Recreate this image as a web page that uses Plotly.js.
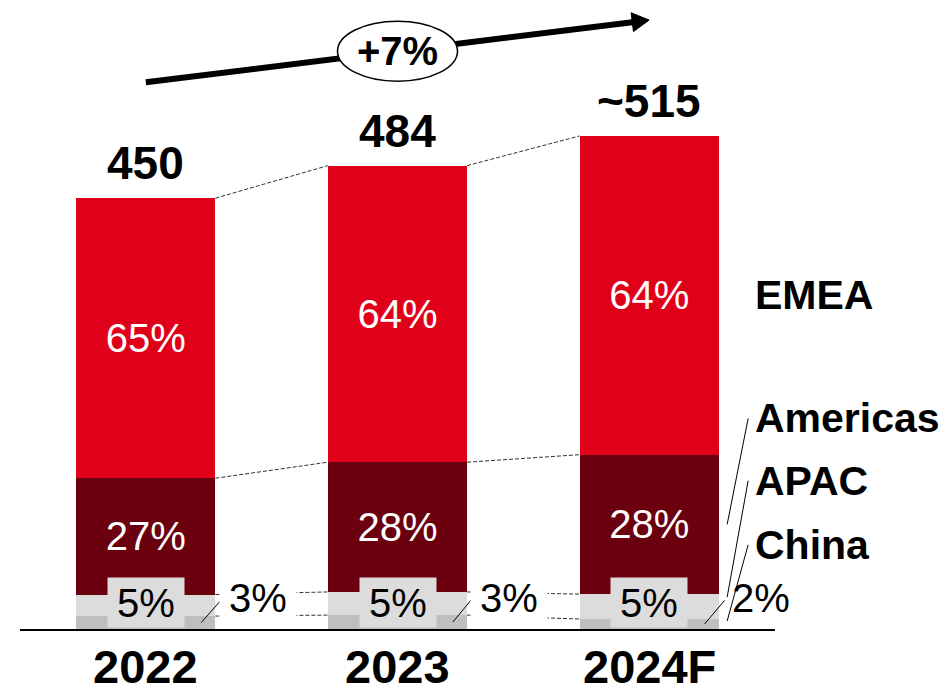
<!DOCTYPE html>
<html>
<head>
<meta charset="utf-8">
<script src="https://cdn.plot.ly/plotly-3.0.1.min.js"></script>
<style>
  html, body { margin: 0; padding: 0; background: #fff; }
  #chart { width: 947px; height: 694px; }
</style>
</head>
<body>
<div id="chart"></div>
<script>
// Revenue by region, 2022 - 2024F
const years = ['2022', '2023', '2024F'];
const totals = [450, 484, 515];
const totalLabels = ['450', '484', '~515'];
const emeaPct = [65, 64, 64];
const americasPct = [27, 28, 28];
const apacPct = [5, 5, 5];
const chinaPct = [3, 3, 2];
const regionNames = ['EMEA', 'Americas', 'APAC', 'China'];
const growthLabel = '+7%';

// ---- styling / geometry constants ----
const FONT = 'Liberation Sans, Arial, sans-serif';
const COLORS = { EMEA: '#e1001a', Americas: '#6b000e', APAC: '#dcdcdc', China: '#bfbfbf' };
const BAR_W = 0.553;
const HW = BAR_W / 2;
const X_RANGE = [-0.5, 2.5];
const Y_MAX = 657;
const MARGIN = { l: 20, r: 172, t: 0, b: 65 };
const W = 947, H = 694;
const PLOT_H = H - MARGIN.t - MARGIN.b;
const PX_X = (W - MARGIN.l - MARGIN.r) / (X_RANGE[1] - X_RANGE[0]); // px per x unit
const PX_Y = PLOT_H / Y_MAX;                                          // px per y unit
const px2x = p => p / PX_X;
const px2y = p => p / PX_Y;

// Segment sizes: shares of each year's total (normalised so the stack equals the total)
const n = years.length;
const pctSum = years.map((_, i) => emeaPct[i] + americasPct[i] + apacPct[i] + chinaPct[i]);
const seg = pct => pct.map((p, i) => totals[i] * p / pctSum[i]);
const china = seg(chinaPct);
const apac = seg(apacPct);
const americas = seg(americasPct);
const emea = seg(emeaPct);
const xs = years.map((_, i) => i);

const baseBar = {
  type: 'bar', x: xs, width: BAR_W, hoverinfo: 'skip',
  textposition: 'inside', insidetextanchor: 'middle', textangle: 0,
  textfont: { family: FONT, size: 40, color: '#ffffff' },
  marker: { line: { width: 0 } }
};

const traces = [
  Object.assign({}, baseBar, { name: 'China', y: china, marker: { color: COLORS.China, line: { width: 0 } }, text: xs.map(() => ''), textposition: 'none' }),
  Object.assign({}, baseBar, { name: 'APAC', y: apac, marker: { color: COLORS.APAC, line: { width: 0 } }, text: xs.map(() => ''), textposition: 'none' }),
  Object.assign({}, baseBar, { name: 'Americas', y: americas, marker: { color: COLORS.Americas, line: { width: 0 } }, text: americasPct.map(p => p + '%') }),
  Object.assign({}, baseBar, { name: 'EMEA', y: emea, marker: { color: COLORS.EMEA, line: { width: 0 } }, text: emeaPct.map(p => p + '%') })
];

const shapes = [];
const annotations = [];

// cumulative boundaries per bar
const lvlChina = china;
const lvlApac = xs.map(i => china[i] + apac[i]);
const lvlAmer = xs.map(i => lvlApac[i] + americas[i]);
const lvlTop = xs.map(i => lvlAmer[i] + emea[i]);

// dashed connectors between neighbouring bars
const dashLine = { color: '#333333', width: 1, dash: '4px,2px' };
for (let i = 0; i < n - 1; i++) {
  [lvlTop, lvlAmer, lvlApac, lvlChina].forEach(lvl => {
    shapes.push({ type: 'line', xref: 'x', yref: 'y', x0: i + HW, y0: lvl[i], x1: i + 1 - HW, y1: lvl[i + 1], line: dashLine, layer: 'above' });
  });
}

// small shares: APAC inside a grey tab, China beside the bar with a short leader
const SIDE_DX = 0.445;
for (let i = 0; i < n; i++) {
  annotations.push({
    x: i, y: 0, xref: 'x', yref: 'y', yanchor: 'bottom', yshift: 1,
    text: apacPct[i] + '%', showarrow: false, width: 74, height: 47,
    bgcolor: COLORS.APAC, font: { family: FONT, size: 40, color: '#000' }
  });
  annotations.push({
    x: i + SIDE_DX, y: 0, xref: 'x', yref: 'y', yanchor: 'bottom', yshift: 9,
    text: chinaPct[i] + '%', showarrow: false, width: 74, height: 40,
    bgcolor: i < n - 1 ? '#ffffff' : 'rgba(0,0,0,0)',
    font: { family: FONT, size: 40, color: '#000' }
  });
  shapes.push({
    type: 'line', xref: 'x', yref: 'y',
    x0: i + 0.22, y0: china[i] * 0.5, x1: i + 0.30, y1: china[i] + apac[i] * 0.75,
    line: { color: '#000', width: 1 }, layer: 'above'
  });
  // year total
  annotations.push({
    x: i, y: lvlTop[i], xref: 'x', yref: 'y', yanchor: 'bottom', yshift: 7,
    text: totalLabels[i], showarrow: false,
    font: { family: FONT, size: 46, color: '#000', weight: 'bold' }
  });
  // year label under the axis, kept inside the figure
  annotations.push({
    x: i, y: -MARGIN.b / PLOT_H, xref: 'x', yref: 'paper', yanchor: 'bottom', borderpad: 0,
    text: years[i], showarrow: false,
    font: { family: FONT, size: 47, color: '#000', weight: 'bold' }
  });
}

// region labels on the right, with leaders into the last bar
const last = n - 1;
const LABEL_X = last + px2x(104);
const LEAD_TOP_X = last + px2x(99);
const LEAD_BOT_X = last + px2x(78);
const regionLabelY = { EMEA: lvlAmer[last] + emea[last] / 2, Americas: 220, APAC: 155, China: 88 };
const leaderEnd = {
  Americas: lvlApac[last] + americas[last] / 2,
  APAC: china[last] + apac[last] * 0.88,
  China: china[last] * 0.8
};
regionNames.forEach(r => {
  annotations.push({
    x: LABEL_X, y: regionLabelY[r], xref: 'x', yref: 'y', xanchor: 'left', yanchor: 'middle',
    text: r, showarrow: false, font: { family: FONT, size: 41, color: '#000', weight: 'bold' }
  });
  if (leaderEnd[r] !== undefined) {
    shapes.push({
      type: 'line', xref: 'x', yref: 'y',
      x0: LEAD_TOP_X, y0: regionLabelY[r], x1: LEAD_BOT_X, y1: leaderEnd[r],
      line: { color: '#000', width: 1 }, layer: 'above'
    });
  }
});

// growth arrow above the bars, parallel to the totals
const LIFT = 121;
const tail = { x: 0, y: totals[0] + LIFT };
const tip = { x: last, y: totals[last] + LIFT };
const dxp = (tip.x - tail.x) * PX_X, dyp = (tip.y - tail.y) * PX_Y;
const len = Math.hypot(dxp, dyp);
const ux = dxp / len, uy = dyp / len;           // unit direction (px, y up)
const HEAD_L = 17, HEAD_HW = 9.5;
const base = { x: tip.x - px2x(HEAD_L * ux), y: tip.y - px2y(HEAD_L * uy) };
const c1 = { x: base.x + px2x(-uy * HEAD_HW), y: base.y + px2y(ux * HEAD_HW) };
const c2 = { x: base.x - px2x(-uy * HEAD_HW), y: base.y - px2y(ux * HEAD_HW) };
shapes.push({
  type: 'line', xref: 'x', yref: 'y', x0: tail.x, y0: tail.y, x1: base.x + px2x(2 * ux), y1: base.y + px2y(2 * uy),
  line: { color: '#000', width: 6 }, layer: 'above'
});
shapes.push({
  type: 'path', xref: 'x', yref: 'y',
  path: `M ${tip.x} ${tip.y} L ${c1.x} ${c1.y} L ${c2.x} ${c2.y} Z`,
  fillcolor: '#000', line: { color: '#000', width: 1 }, layer: 'above'
});
const mid = { x: (tail.x + tip.x) / 2, y: (tail.y + tip.y) / 2 };
shapes.push({
  type: 'circle', xref: 'x', yref: 'y',
  x0: mid.x - px2x(60), x1: mid.x + px2x(60), y0: mid.y - px2y(30), y1: mid.y + px2y(30),
  fillcolor: '#ffffff', line: { color: '#000', width: 1.5 }, layer: 'above'
});
annotations.push({
  x: mid.x, y: mid.y, xref: 'x', yref: 'y', text: growthLabel, showarrow: false,
  font: { family: FONT, size: 40, color: '#000', weight: 'bold' }
});

const layout = {
  width: W, height: H, margin: MARGIN,
  paper_bgcolor: '#ffffff', plot_bgcolor: '#ffffff',
  barmode: 'stack', showlegend: false, bargap: 0,
  font: { family: FONT },
  xaxis: {
    type: 'linear', range: X_RANGE, tickvals: xs, showticklabels: false,
    showline: true, linecolor: '#000', linewidth: 2, ticks: '',
    showgrid: false, zeroline: false, fixedrange: true
  },
  yaxis: { range: [0, Y_MAX], visible: false, showgrid: false, zeroline: false, fixedrange: true },
  shapes: shapes,
  annotations: annotations
};

Plotly.newPlot('chart', traces, layout, { displayModeBar: false, staticPlot: true });
</script>
</body>
</html>
